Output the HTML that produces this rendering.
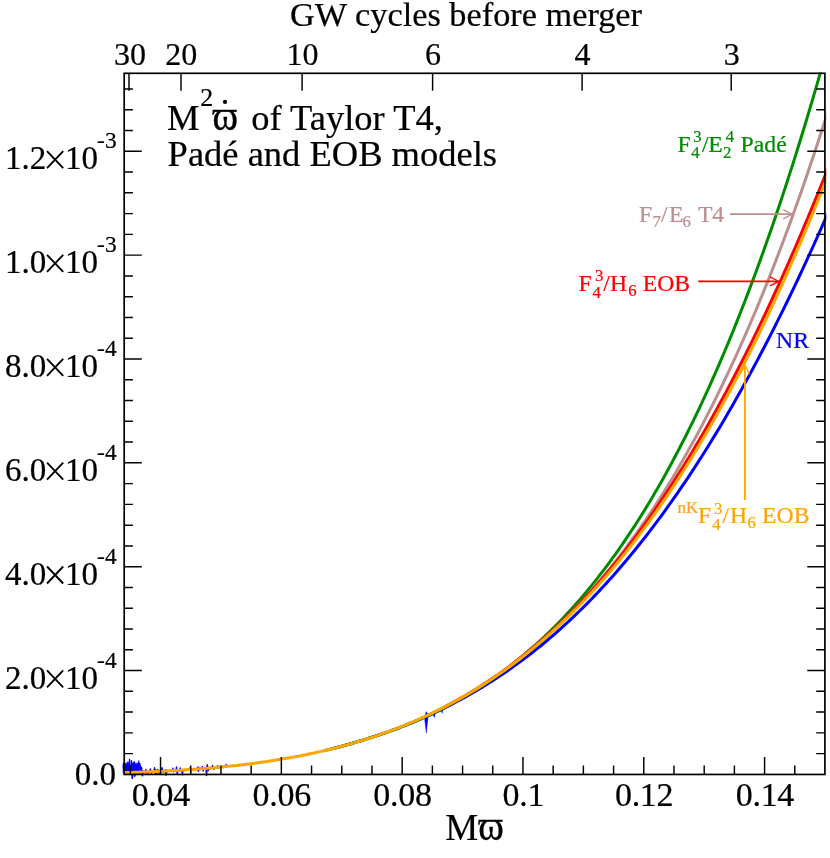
<!DOCTYPE html>
<html><head><meta charset="utf-8"><title>M2 omega-dot of Taylor T4, Pade and EOB models</title>
<style>
html,body{margin:0;padding:0;background:#fff;}
svg{display:block;will-change:transform;}
svg{color:#000;}
text{font-family:"Liberation Serif",serif;fill:currentColor;stroke:currentColor;stroke-width:0.22px;}
</style></head>
<body>
<svg width="830" height="858" viewBox="0 0 830 858">
<defs><clipPath id="cp"><rect x="122.5" y="72.5" width="703.8" height="707"/></clipPath></defs>
<rect x="0" y="0" width="830" height="858" fill="#fff"/>
<g clip-path="url(#cp)" fill="none" stroke-linejoin="round" stroke-linecap="butt">
<path d="M123.0,773.7 L123.0,763.2 L124.3,765.0 L125.1,762.9 L126.4,767.9 L127.2,762.1 L128.6,768.2 L129.3,765.0 L130.8,765.7 L131.3,760.1 L132.9,765.8 L133.8,764.5 L134.7,766.3 L135.2,764.3 L136.3,768.2 L137.1,762.8 L138.5,766.2 L139.4,763.8 L140.8,767.2 L141.5,769.9 L143.1,770.8 L142.5,773.1Z" fill="#0000ff" stroke="#0000ff" stroke-width="1"/>
<path d="M123.0,765.0 L123.6,770.6 L124.0,763.1 L124.7,773.9 L125.3,767.3 L126.1,773.8 L126.5,764.0 L127.4,773.4 L127.9,762.2 L128.9,770.9 L129.5,759.2 L130.0,769.3 L130.6,766.3 L131.1,772.3 L131.9,765.9 L132.7,770.4 L133.3,762.7 L133.9,773.6 L134.4,761.6 L135.1,772.1 L135.8,763.5 L136.4,769.4 L137.2,765.2 L137.9,770.9 L138.8,761.0 L139.4,768.3 L139.9,763.6 L140.8,772.8 L141.4,767.1 L142.2,769.4" stroke="#0000ff" stroke-width="1.2"/>
<path d="M142.5,770.3 L143.1,774.4 L143.9,771.4 L145.1,772.5 L145.9,769.4 L146.8,774.1 L147.6,771.4 L148.2,772.8 L149.0,771.3 L149.5,772.3 L150.4,768.8 L151.5,773.5 L152.4,771.3 L153.6,771.9 L154.6,767.7 L155.2,773.8 L155.8,769.7 L156.9,773.9 L157.9,769.3 L159.0,773.9 L159.8,771.0 L161.0,771.7 L162.1,767.7 L163.1,772.7 L164.2,770.5 L164.8,771.8 L165.7,769.7 L166.6,773.6 L167.4,770.3 L168.2,771.2 L168.9,770.4 L169.4,771.2 L170.0,770.3 L171.1,771.1 L171.8,770.4 L172.3,771.1 L172.9,768.2 L173.6,771.8 L174.5,770.2 L175.7,771.2 L176.5,766.8 L177.2,774.1 L178.2,769.7 L179.4,770.8 L180.2,767.8 L181.0,771.4 L181.7,769.9 L182.5,770.6 L183.0,769.7 L183.9,770.7 L184.9,769.4 L185.6,770.4 L186.5,769.2 L187.2,770.2 L188.1,769.4 L188.8,770.3 L189.8,767.8 L190.6,772.5 L191.1,769.0 L191.8,770.3 L192.4,768.6 L193.4,769.8 L194.3,768.7 L195.0,769.9 L196.2,768.7 L197.1,769.9 L197.9,766.9 L198.4,771.4 L199.2,768.0 L199.9,769.8 L200.5,768.3 L201.3,769.3 L202.4,766.5 L203.1,771.0 L203.9,768.3 L204.4,769.0 L205.6,768.0 L206.7,768.8 L207.3,764.7 L208.2,770.9 L208.9,767.5 L210.0,768.7 L211.2,767.2 L211.7,768.7 L212.7,765.5 L213.9,769.5 L214.4,767.3 L215.1,768.2 L215.9,767.4 L217.1,767.6 L217.7,765.6 L218.2,768.2 L218.8,767.1 L219.9,767.6 L220.9,766.8 L221.8,767.2 L222.9,766.2 L223.7,767.6 L224.6,766.4 L225.6,766.8 L226.1,764.5 L227.2,767.2" stroke="#0000ff" stroke-width="1.3"/>
<path d="M131.6,772.4 L132.3,778.6 L133.0,772.4 M134.3,774 L134.8,776.3 L135.2,774 M141.9,773 L142.4,775.9 L142.9,773 M165.5,772 L166,775.2 L166.4,772 M206,769 L206.5,775.5 L207,769 M182,771 L182.4,774.8 L182.8,771" stroke="#0000ff" stroke-width="1.4"/>
<path d="M424.5,717.8 L426.2,711.6 L428.3,715.3 L426.3,733.2 Z M432.4,713.2 L436,711.5 L434.3,717.4 Z M440.6,709.3 L443.4,707.9 L442.2,713.2 Z" fill="#0000ff" stroke="#0000ff" stroke-width="0.4"/>
<path d="M333.0,748.6 L336.0,747.8 L339.0,747.0 L342.0,746.2 L345.0,745.4 L348.0,744.5 L351.0,743.7 L354.0,742.8 L357.0,741.9 L360.0,741.0 L363.0,740.1 L366.0,739.2 L369.0,738.2 L372.0,737.2 L375.0,736.2 L378.0,735.3 L381.0,734.2 L384.0,733.2 L387.0,732.2 L390.0,731.1 L393.0,730.0 L396.0,728.9 L399.0,727.8 L402.0,726.6 L405.0,725.4 L408.0,724.2 L411.0,723.0 L414.0,721.8 L417.0,720.5 L420.0,719.3 L423.0,717.9 L426.0,716.6 L429.0,715.3 L432.0,713.9 L435.0,712.5 L438.0,711.1 L441.0,709.6 L444.0,708.1 L447.0,706.6 L450.0,705.1 L453.0,703.6 L456.0,702.0 L459.0,700.4 L462.1,698.8 L465.1,697.1 L468.1,695.4 L471.1,693.7 L474.1,692.0 L477.1,690.2 L480.1,688.4 L483.2,686.6 L486.2,684.7 L489.2,682.8 L492.2,680.9 L495.2,679.0 L498.2,677.0 L501.3,675.0 L504.3,672.9 L507.3,670.9 L510.3,668.8 L513.3,666.6 L516.3,664.5 L519.3,662.3 L522.4,660.0 L525.4,657.8 L528.4,655.5 L531.4,653.2 L534.4,650.8 L537.4,648.4 L540.5,646.0 L543.5,643.5 L546.5,641.0 L549.5,638.4 L552.5,635.9 L555.5,633.3 L558.5,630.6 L561.5,627.9 L564.5,625.2 L567.5,622.5 L570.5,619.7 L573.5,616.8 L576.5,613.9 L579.5,611.0 L582.5,608.1 L585.5,605.1 L588.5,602.1 L591.5,599.0 L594.5,595.9 L597.5,592.7 L600.5,589.6 L603.5,586.3 L606.5,583.1 L609.5,579.7 L612.5,576.4 L615.5,573.0 L618.5,569.6 L621.5,566.1 L624.5,562.6 L627.5,559.0 L630.5,555.4 L633.5,551.7 L636.5,548.0 L639.5,544.3 L642.5,540.5 L645.5,536.7 L648.5,532.8 L651.5,528.9 L654.5,524.9 L657.5,520.9 L660.5,516.9 L663.5,512.8 L666.5,508.6 L669.5,504.4 L672.5,500.2 L675.5,495.9 L678.5,491.6 L681.5,487.2 L684.5,482.8 L687.5,478.3 L690.5,473.8 L693.5,469.2 L696.5,464.6 L699.5,459.9 L702.5,455.2 L705.5,450.5 L708.5,445.7 L711.5,440.8 L714.5,435.9 L717.5,430.9 L720.5,425.9 L723.5,420.9 L726.5,415.8 L729.5,410.6 L732.5,405.4 L735.5,400.1 L738.5,394.8 L741.5,389.5 L744.5,384.1 L747.5,378.6 L750.5,373.1 L753.5,367.5 L756.5,361.9 L759.5,356.3 L762.5,350.5 L765.5,344.8 L768.5,339.0 L771.5,333.1 L774.5,327.2 L777.5,321.2 L780.5,315.2 L783.5,309.1 L786.5,303.0 L789.5,296.8 L792.5,290.6 L795.5,284.3 L798.5,278.0 L801.5,271.6 L804.5,265.1 L807.5,258.7 L810.5,252.1 L813.5,245.5 L816.5,238.9 L819.5,232.2 L822.5,225.4 L825.5,218.6 L828.5,211.8" stroke="#0000ff" stroke-width="3.0"/>
<path d="M324.0,750.7 L327.0,750.0 L330.0,749.3 L333.0,748.5 L336.0,747.7 L339.0,746.9 L342.0,746.1 L345.0,745.3 L348.0,744.5 L351.0,743.6 L354.0,742.8 L357.0,741.9 L360.0,741.0 L363.0,740.1 L366.0,739.2 L369.0,738.2 L372.0,737.3 L375.0,736.3 L378.0,735.3 L381.0,734.3 L384.0,733.3 L387.0,732.3 L390.0,731.2 L393.0,730.1 L396.0,729.0 L399.0,727.8 L402.0,726.7 L405.0,725.5 L408.0,724.3 L411.0,723.1 L414.0,721.8 L417.0,720.5 L420.0,719.2 L423.0,717.9 L426.0,716.5 L429.0,715.2 L432.0,713.7 L435.0,712.3 L438.0,710.8 L441.0,709.3 L444.0,707.8 L447.0,706.3 L450.0,704.7 L453.0,703.1 L456.0,701.4 L459.0,699.7 L462.1,698.0 L465.1,696.3 L468.1,694.5 L471.1,692.7 L474.1,690.8 L477.1,688.9 L480.1,687.0 L483.2,685.1 L486.2,683.1 L489.2,681.1 L492.2,679.0 L495.2,676.9 L498.2,674.7 L501.3,672.6 L504.3,670.3 L507.3,668.1 L510.3,665.8 L513.3,663.4 L516.3,661.0 L519.3,658.6 L522.4,656.1 L525.4,653.6 L528.4,651.0 L531.4,648.4 L534.4,645.8 L537.4,643.1 L540.5,640.3 L543.5,637.5 L546.5,634.7 L549.5,631.8 L552.5,628.8 L555.5,625.8 L558.5,622.8 L561.5,619.7 L564.5,616.5 L567.5,613.3 L570.5,610.0 L573.5,606.7 L576.5,603.3 L579.5,599.9 L582.5,596.4 L585.5,592.9 L588.5,589.3 L591.5,585.6 L594.5,581.9 L597.5,578.1 L600.5,574.2 L603.5,570.3 L606.5,566.4 L609.5,562.3 L612.5,558.2 L615.5,554.1 L618.5,549.8 L621.5,545.5 L624.5,541.2 L627.5,536.7 L630.5,532.2 L633.5,527.6 L636.5,523.0 L639.5,518.3 L642.5,513.5 L645.5,508.6 L648.5,503.7 L651.5,498.7 L654.5,493.6 L657.5,488.4 L660.5,483.2 L663.5,477.9 L666.5,472.5 L669.5,467.0 L672.5,461.5 L675.5,455.8 L678.5,450.1 L681.5,444.3 L684.5,438.5 L687.5,432.5 L690.5,426.4 L693.5,420.3 L696.5,414.1 L699.5,407.8 L702.5,401.4 L705.5,394.9 L708.5,388.3 L711.5,381.7 L714.5,374.9 L717.5,368.1 L720.5,361.1 L723.5,354.1 L726.5,347.0 L729.5,339.8 L732.5,332.5 L735.5,325.1 L738.5,317.5 L741.5,309.9 L744.5,302.2 L747.5,294.4 L750.5,286.5 L753.5,278.5 L756.5,270.4 L759.5,262.2 L762.5,253.9 L765.5,245.5 L768.5,237.0 L771.5,228.4 L774.5,219.7 L777.5,210.8 L780.5,201.9 L783.5,192.9 L786.5,183.7 L789.5,174.4 L792.5,165.1 L795.5,155.6 L798.5,146.0 L801.5,136.3 L804.5,126.5 L807.5,116.6 L810.5,106.5 L813.5,96.4 L816.5,86.1 L819.5,75.7 L822.5,65.2 L825.5,54.6 L828.5,43.9" stroke="#008b00" stroke-width="3.0"/>
<path d="M504.3,670.4 L507.3,668.2 L510.3,666.0 L513.3,663.8 L516.3,661.5 L519.3,659.2 L522.4,656.8 L525.4,654.5 L528.4,652.0 L531.4,649.5 L534.4,647.0 L537.4,644.5 L540.5,641.8 L543.5,639.2 L546.5,636.5 L549.5,633.7 L552.5,630.9 L555.5,628.1 L558.5,625.2 L561.5,622.3 L564.5,619.3 L567.5,616.3 L570.5,613.2 L573.5,610.1 L576.5,607.0 L579.5,603.8 L582.5,600.6 L585.5,597.3 L588.5,593.9 L591.5,590.5 L594.5,587.1 L597.5,583.6 L600.5,580.1 L603.5,576.5 L606.5,572.8 L609.5,569.1 L612.5,565.3 L615.5,561.5 L618.5,557.7 L621.5,553.7 L624.5,549.8 L627.5,545.7 L630.5,541.6 L633.5,537.5 L636.5,533.3 L639.5,529.0 L642.5,524.7 L645.5,520.3 L648.5,515.8 L651.5,511.3 L654.5,506.7 L657.5,502.1 L660.5,497.4 L663.5,492.6 L666.5,487.8 L669.5,482.9 L672.5,477.9 L675.5,472.9 L678.5,467.8 L681.5,462.6 L684.5,457.3 L687.5,452.0 L690.5,446.6 L693.5,441.2 L696.5,435.7 L699.5,430.1 L702.5,424.4 L705.5,418.6 L708.5,412.8 L711.5,406.9 L714.5,400.9 L717.5,394.9 L720.5,388.7 L723.5,382.5 L726.5,376.2 L729.5,369.9 L732.5,363.4 L735.5,356.9 L738.5,350.3 L741.5,343.6 L744.5,336.8 L747.5,329.9 L750.5,323.0 L753.5,315.9 L756.5,308.8 L759.5,301.6 L762.5,294.3 L765.5,286.9 L768.5,279.4 L771.5,271.8 L774.5,264.1 L777.5,256.4 L780.5,248.5 L783.5,240.6 L786.5,232.5 L789.5,224.4 L792.5,216.2 L795.5,207.8 L798.5,199.4 L801.5,190.9 L804.5,182.2 L807.5,173.5 L810.5,164.6 L813.5,155.7 L816.5,146.7 L819.5,137.5 L822.5,128.3 L825.5,118.9 L828.5,109.4" stroke="#bc8f8f" stroke-width="3.0"/>
<path d="M444.0,707.2 L447.0,705.6 L450.0,704.0 L453.0,702.4 L456.0,700.8 L459.0,699.1 L462.1,697.4 L465.1,695.7 L468.1,693.9 L471.1,692.1 L474.1,690.3 L477.1,688.4 L480.1,686.5 L483.2,684.6 L486.2,682.6 L489.2,680.6 L492.2,678.6 L495.2,676.5 L498.2,674.4 L501.3,672.3 L504.3,670.1 L507.3,667.9 L510.3,665.7 L513.3,663.4 L516.3,661.1 L519.3,658.7 L522.4,656.4 L525.4,653.9 L528.4,651.5 L531.4,649.0 L534.4,646.5 L537.4,643.9 L540.5,641.3 L543.5,638.7 L546.5,636.0 L549.5,633.2 L552.5,630.5 L555.5,627.7 L558.5,624.8 L561.5,622.0 L564.5,619.0 L567.5,616.1 L570.5,613.0 L573.5,610.0 L576.5,606.9 L579.5,603.8 L582.5,600.6 L585.5,597.4 L588.5,594.1 L591.5,590.8 L594.5,587.4 L597.5,584.0 L600.5,580.6 L603.5,577.1 L606.5,573.5 L609.5,570.0 L612.5,566.3 L615.5,562.6 L618.5,558.9 L621.5,555.2 L624.5,551.3 L627.5,547.5 L630.5,543.5 L633.5,539.6 L636.5,535.6 L639.5,531.5 L642.5,527.4 L645.5,523.2 L648.5,519.0 L651.5,514.8 L654.5,510.4 L657.5,506.1 L660.5,501.7 L663.5,497.2 L666.5,492.7 L669.5,488.1 L672.5,483.5 L675.5,478.8 L678.5,474.1 L681.5,469.3 L684.5,464.5 L687.5,459.6 L690.5,454.7 L693.5,449.7 L696.5,444.6 L699.5,439.5 L702.5,434.4 L705.5,429.2 L708.5,423.9 L711.5,418.6 L714.5,413.2 L717.5,407.8 L720.5,402.3 L723.5,396.8 L726.5,391.2 L729.5,385.5 L732.5,379.8 L735.5,374.0 L738.5,368.2 L741.5,362.3 L744.5,356.4 L747.5,350.4 L750.5,344.4 L753.5,338.3 L756.5,332.1 L759.5,325.9 L762.5,319.6 L765.5,313.3 L768.5,306.9 L771.5,300.5 L774.5,294.0 L777.5,287.4 L780.5,280.8 L783.5,274.1 L786.5,267.4 L789.5,260.6 L792.5,253.7 L795.5,246.8 L798.5,239.8 L801.5,232.8 L804.5,225.7 L807.5,218.6 L810.5,211.4 L813.5,204.1 L816.5,196.8 L819.5,189.5 L822.5,182.0 L825.5,174.5 L828.5,167.0" stroke="#ff0000" stroke-width="3.0"/>
<path d="M123.0,772.7 L126.0,772.6 L129.0,772.5 L132.0,772.4 L135.0,772.3 L138.0,772.2 L141.0,772.1 L144.0,772.0 L147.0,771.9 L150.0,771.8 L153.0,771.6 L156.0,771.5 L159.0,771.4 L162.0,771.2 L165.0,771.1 L168.0,770.9 L171.0,770.7 L174.0,770.6 L177.0,770.4 L180.0,770.2 L183.0,770.0 L186.0,769.8 L189.0,769.6 L192.0,769.4 L195.0,769.2 L198.0,769.0 L201.0,768.8 L204.0,768.5 L207.0,768.3 L210.0,768.0 L213.0,767.8 L216.0,767.5 L219.0,767.2 L222.0,766.9 L225.0,766.6 L228.0,766.3 L231.0,766.0 L234.0,765.7 L237.0,765.4 L240.0,765.0 L243.0,764.7 L246.0,764.3 L249.0,763.9 L252.0,763.5 L255.0,763.2 L258.0,762.7 L261.0,762.3 L264.0,761.9 L267.0,761.5 L270.0,761.0 L273.0,760.6 L276.0,760.1 L279.0,759.6 L282.0,759.1 L285.0,758.6 L288.0,758.1 L291.0,757.5 L294.0,757.0 L297.0,756.4 L300.0,755.9 L303.0,755.3 L306.0,754.7 L309.0,754.0 L312.0,753.4 L315.0,752.8 L318.0,752.1 L321.0,751.4 L324.0,750.7 L327.0,750.0 L330.0,749.3 L333.0,748.6 L336.0,747.8 L339.0,747.0 L342.0,746.2 L345.0,745.4 L348.0,744.6 L351.0,743.7 L354.0,742.9 L357.0,742.0 L360.0,741.1 L363.0,740.2 L366.0,739.2 L369.0,738.3 L372.0,737.3 L375.0,736.3 L378.0,735.3 L381.0,734.2 L384.0,733.2 L387.0,732.1 L390.0,731.0 L393.0,729.9 L396.0,728.7 L399.0,727.6 L402.0,726.4 L405.0,725.2 L408.0,723.9 L411.0,722.7 L414.0,721.4 L417.0,720.1 L420.0,718.7 L423.0,717.4 L426.0,716.0 L429.0,714.6 L432.0,713.2 L435.0,711.7 L438.0,710.2 L441.0,708.7 L444.0,707.2 L447.0,705.6 L450.0,704.0 L453.0,702.4 L456.0,700.8 L459.0,699.1 L462.1,697.4 L465.1,695.7 L468.1,693.9 L471.1,692.1 L474.1,690.3 L477.1,688.4 L480.1,686.6 L483.2,684.7 L486.2,682.7 L489.2,680.7 L492.2,678.7 L495.2,676.7 L498.2,674.6 L501.3,672.5 L504.3,670.4 L507.3,668.2 L510.3,666.0 L513.3,663.8 L516.3,661.5 L519.3,659.2 L522.4,656.9 L525.4,654.5 L528.4,652.1 L531.4,649.6 L534.4,647.1 L537.4,644.6 L540.5,642.1 L543.5,639.5 L546.5,636.8 L549.5,634.2 L552.5,631.4 L555.5,628.7 L558.5,625.9 L561.5,623.1 L564.5,620.2 L567.5,617.3 L570.5,614.4 L573.5,611.4 L576.5,608.4 L579.5,605.3 L582.5,602.2 L585.5,599.0 L588.5,595.8 L591.5,592.6 L594.5,589.3 L597.5,586.0 L600.5,582.6 L603.5,579.2 L606.5,575.7 L609.5,572.2 L612.5,568.7 L615.5,565.1 L618.5,561.5 L621.5,557.8 L624.5,554.0 L627.5,550.3 L630.5,546.4 L633.5,542.6 L636.5,538.6 L639.5,534.7 L642.5,530.7 L645.5,526.6 L648.5,522.5 L651.5,518.3 L654.5,514.1 L657.5,509.8 L660.5,505.5 L663.5,501.2 L666.5,496.8 L669.5,492.3 L672.5,487.8 L675.5,483.2 L678.5,478.6 L681.5,473.9 L684.5,469.2 L687.5,464.4 L690.5,459.6 L693.5,454.7 L696.5,449.7 L699.5,444.7 L702.5,439.7 L705.5,434.6 L708.5,429.4 L711.5,424.2 L714.5,418.9 L717.5,413.6 L720.5,408.2 L723.5,402.8 L726.5,397.3 L729.5,391.7 L732.5,386.1 L735.5,380.4 L738.5,374.7 L741.5,368.9 L744.5,363.0 L747.5,357.1 L750.5,351.2 L753.5,345.1 L756.5,339.0 L759.5,332.9 L762.5,326.7 L765.5,320.4 L768.5,314.1 L771.5,307.7 L774.5,301.2 L777.5,294.7 L780.5,288.1 L783.5,281.5 L786.5,274.8 L789.5,268.0 L792.5,261.2 L795.5,254.3 L798.5,247.4 L801.5,240.3 L804.5,233.2 L807.5,226.1 L810.5,218.9 L813.5,211.6 L816.5,204.3 L819.5,196.9 L822.5,189.4 L825.5,181.8 L828.5,174.2" stroke="#ffa500" stroke-width="3.0"/>
</g>
<text x="677.5" y="151.6" font-size="23.7" style="color:#008b00">F</text>
<text x="691.2" y="158.4" font-size="16.8" style="color:#008b00">4</text>
<text x="693.3" y="142.3" font-size="16.8" style="color:#008b00">3</text>
<text x="701.9" y="151.6" font-size="23.7" style="color:#008b00">/</text>
<text x="708.3" y="151.6" font-size="23.7" style="color:#008b00">E</text>
<text x="723.1" y="158.4" font-size="16.8" style="color:#008b00">2</text>
<text x="725.7" y="142.3" font-size="16.8" style="color:#008b00">4</text>
<text x="740.6" y="151.6" font-size="23.7" style="color:#008b00">Padé</text>
<text x="638.9" y="221.7" font-size="23.7" style="color:#bc8f8f">F</text>
<text x="652.4" y="226.6" font-size="16.8" style="color:#bc8f8f">7</text>
<text x="661.0" y="221.7" font-size="23.7" style="color:#bc8f8f">/</text>
<text x="669.0" y="221.7" font-size="23.7" style="color:#bc8f8f">E</text>
<text x="682.6" y="226.6" font-size="16.8" style="color:#bc8f8f">6</text>
<text x="697.9" y="221.7" font-size="23.7" style="color:#bc8f8f">T4</text>
<text x="578.6" y="290.7" font-size="23.7" style="color:#ff0000">F</text>
<text x="592.6" y="297.5" font-size="16.8" style="color:#ff0000">4</text>
<text x="594.9" y="281.3" font-size="16.8" style="color:#ff0000">3</text>
<text x="603.2" y="290.7" font-size="23.7" style="color:#ff0000">/</text>
<text x="610.1" y="290.7" font-size="23.7" style="color:#ff0000">H</text>
<text x="628.2" y="296.0" font-size="16.8" style="color:#ff0000">6</text>
<text x="642.7" y="290.7" font-size="23.7" style="color:#ff0000">EOB</text>
<text x="677.6" y="512.8" font-size="16.8" style="color:#ffa500">nK</text>
<text x="698.0" y="523.3" font-size="23.7" style="color:#ffa500">F</text>
<text x="712.2" y="529.9" font-size="16.8" style="color:#ffa500">4</text>
<text x="714.0" y="513.6" font-size="16.8" style="color:#ffa500">3</text>
<text x="722.6" y="523.3" font-size="23.7" style="color:#ffa500">/</text>
<text x="730.0" y="523.3" font-size="23.7" style="color:#ffa500">H</text>
<text x="747.5" y="528.4" font-size="16.8" style="color:#ffa500">6</text>
<text x="762.1" y="523.3" font-size="23.7" style="color:#ffa500">EOB</text>
<text x="776.1" y="348" font-size="23.7" style="color:#0000ff">NR</text>
<path d="M730,214.2 H791.5" stroke="#bc8f8f" stroke-width="1.8" fill="none"/>
<path d="M783.2,209.6 L792,214.2 L783.2,218.8" stroke="#bc8f8f" stroke-width="1.3" fill="none"/>
<path d="M698.2,281.4 H778.5" stroke="#ff0000" stroke-width="1.8" fill="none"/>
<path d="M769.8,276.9 L779,281.4 L769.8,285.9" stroke="#ff0000" stroke-width="1.3" fill="none"/>
<path d="M744.9,500 V365.2" stroke="#ffa500" stroke-width="1.8" fill="none"/>
<path d="M740.5,374 L744.9,364.8 L749.3,374" stroke="#ffa500" stroke-width="1.3" fill="none"/>
<rect x="124.2" y="73.3" width="700.7" height="701.15" fill="none" stroke="#000" stroke-width="1.7"/>
<path d="M130.34,774.4 v-8.8 M160.54,774.4 v-17.4 M190.75,774.4 v-8.8 M220.95,774.4 v-8.8 M251.15,774.4 v-8.8 M281.35,774.4 v-17.4 M311.56,774.4 v-8.8 M341.76,774.4 v-8.8 M371.96,774.4 v-8.8 M402.16,774.4 v-17.4 M432.37,774.4 v-8.8 M462.57,774.4 v-8.8 M492.77,774.4 v-8.8 M522.97,774.4 v-17.4 M553.18,774.4 v-8.8 M583.38,774.4 v-8.8 M613.58,774.4 v-8.8 M643.78,774.4 v-17.4 M673.99,774.4 v-8.8 M704.19,774.4 v-8.8 M734.39,774.4 v-8.8 M764.59,774.4 v-17.4 M794.80,774.4 v-8.8 M124.2,753.63 h8.7 M824.9,753.63 h-8.7 M124.2,732.86 h8.7 M824.9,732.86 h-8.7 M124.2,712.09 h8.7 M824.9,712.09 h-8.7 M124.2,691.32 h8.7 M824.9,691.32 h-8.7 M124.2,670.55 h17.6 M824.9,670.55 h-17.6 M124.2,649.78 h8.7 M824.9,649.78 h-8.7 M124.2,629.01 h8.7 M824.9,629.01 h-8.7 M124.2,608.24 h8.7 M824.9,608.24 h-8.7 M124.2,587.47 h8.7 M824.9,587.47 h-8.7 M124.2,566.70 h17.6 M824.9,566.70 h-17.6 M124.2,545.93 h8.7 M824.9,545.93 h-8.7 M124.2,525.16 h8.7 M824.9,525.16 h-8.7 M124.2,504.39 h8.7 M824.9,504.39 h-8.7 M124.2,483.61 h8.7 M824.9,483.61 h-8.7 M124.2,462.84 h17.6 M824.9,462.84 h-17.6 M124.2,442.07 h8.7 M824.9,442.07 h-8.7 M124.2,421.30 h8.7 M824.9,421.30 h-8.7 M124.2,400.53 h8.7 M824.9,400.53 h-8.7 M124.2,379.76 h8.7 M824.9,379.76 h-8.7 M124.2,358.99 h17.6 M824.9,358.99 h-17.6 M124.2,338.22 h8.7 M824.9,338.22 h-8.7 M124.2,317.45 h8.7 M824.9,317.45 h-8.7 M124.2,296.68 h8.7 M824.9,296.68 h-8.7 M124.2,275.91 h8.7 M824.9,275.91 h-8.7 M124.2,255.14 h17.6 M824.9,255.14 h-17.6 M124.2,234.37 h8.7 M824.9,234.37 h-8.7 M124.2,213.60 h8.7 M824.9,213.60 h-8.7 M124.2,192.83 h8.7 M824.9,192.83 h-8.7 M124.2,172.06 h8.7 M824.9,172.06 h-8.7 M124.2,151.29 h17.6 M824.9,151.29 h-17.6 M124.2,130.52 h8.7 M824.9,130.52 h-8.7 M124.2,109.75 h8.7 M824.9,109.75 h-8.7 M124.2,88.98 h8.7 M824.9,88.98 h-8.7 M129.0,73.3 v17.4 M181.0,73.3 v17.4 M302.1,73.3 v17.4 M432.6,73.3 v17.4 M582.1,73.3 v17.4 M731.2,73.3 v17.4" stroke="#000" stroke-width="1.45" fill="none"/>
<text x="466" y="25.6" font-size="34.3" text-anchor="middle" fill="#000" >GW cycles before merger</text>
<text x="130.0" y="65.0" font-size="32" text-anchor="middle" fill="#000" >30</text>
<text x="181.2" y="65.0" font-size="32" text-anchor="middle" fill="#000" >20</text>
<text x="302.4" y="65.0" font-size="32" text-anchor="middle" fill="#000" >10</text>
<text x="432.9" y="65.0" font-size="32" text-anchor="middle" fill="#000" >6</text>
<text x="582.4" y="65.0" font-size="32" text-anchor="middle" fill="#000" >4</text>
<text x="731.7" y="65.0" font-size="32" text-anchor="middle" fill="#000" >3</text>
<text x="160.8" y="806.0" font-size="34" text-anchor="middle" fill="#000" letter-spacing="-0.3">0.04</text>
<text x="281.7" y="806.0" font-size="34" text-anchor="middle" fill="#000" letter-spacing="-0.3">0.06</text>
<text x="402.5" y="806.0" font-size="34" text-anchor="middle" fill="#000" letter-spacing="-0.3">0.08</text>
<text x="523.3" y="806.0" font-size="34" text-anchor="middle" fill="#000" letter-spacing="-0.3">0.1</text>
<text x="644.1" y="806.0" font-size="34" text-anchor="middle" fill="#000" letter-spacing="-0.3">0.12</text>
<text x="764.9" y="806.0" font-size="34" text-anchor="middle" fill="#000" letter-spacing="-0.3">0.14</text>
<text x="5.0" y="688.5" font-size="33">2.0</text>
<path d="M47.0,670.3 L63.2,687.3 M47.0,687.3 L63.2,670.3" stroke="#000" stroke-width="1.9" fill="none"/>
<text x="64.9" y="688.5" font-size="33">10</text>
<text x="97.1" y="667.5" font-size="23.4">-4</text>
<text x="5.0" y="584.7" font-size="33">4.0</text>
<path d="M47.0,566.5 L63.2,583.5 M47.0,583.5 L63.2,566.5" stroke="#000" stroke-width="1.9" fill="none"/>
<text x="64.9" y="584.7" font-size="33">10</text>
<text x="97.1" y="563.7" font-size="23.4">-4</text>
<text x="5.0" y="480.8" font-size="33">6.0</text>
<path d="M47.0,462.6 L63.2,479.6 M47.0,479.6 L63.2,462.6" stroke="#000" stroke-width="1.9" fill="none"/>
<text x="64.9" y="480.8" font-size="33">10</text>
<text x="97.1" y="459.8" font-size="23.4">-4</text>
<text x="5.0" y="377.0" font-size="33">8.0</text>
<path d="M47.0,358.8 L63.2,375.8 M47.0,375.8 L63.2,358.8" stroke="#000" stroke-width="1.9" fill="none"/>
<text x="64.9" y="377.0" font-size="33">10</text>
<text x="97.1" y="356.0" font-size="23.4">-4</text>
<text x="5.0" y="273.1" font-size="33">1.0</text>
<path d="M47.0,254.9 L63.2,271.9 M47.0,271.9 L63.2,254.9" stroke="#000" stroke-width="1.9" fill="none"/>
<text x="64.9" y="273.1" font-size="33">10</text>
<text x="97.1" y="252.1" font-size="23.4">-3</text>
<text x="5.0" y="169.3" font-size="33">1.2</text>
<path d="M47.0,151.1 L63.2,168.1 M47.0,168.1 L63.2,151.1" stroke="#000" stroke-width="1.9" fill="none"/>
<text x="64.9" y="169.3" font-size="33">10</text>
<text x="97.1" y="148.3" font-size="23.4">-3</text>
<text x="116.0" y="784.6" font-size="33" text-anchor="end" fill="#000" >0.0</text>
<text x="445.2" y="839.7" font-size="37">M</text>
<text transform="translate(478.2,839.7) scale(1.05,1.22)" x="0" y="0" font-size="37" style="stroke-width:0.3px">ϖ</text>
<text x="166.9" y="129.7" font-size="36.5">M</text>
<text x="200.3" y="106.2" font-size="25.9">2</text>
<text transform="translate(212.6,129.7) scale(1.06,1.2)" x="0" y="0" font-size="36.5" style="stroke-width:0.35px">ϖ</text>
<circle cx="225" cy="101.9" r="2.1" fill="#000"/>
<text x="442.9" y="129.7" font-size="36.5" text-anchor="end">of Taylor T4,</text>
<text x="167.6" y="166.3" font-size="36.5">Padé and EOB models</text>
</svg>
</body></html>
